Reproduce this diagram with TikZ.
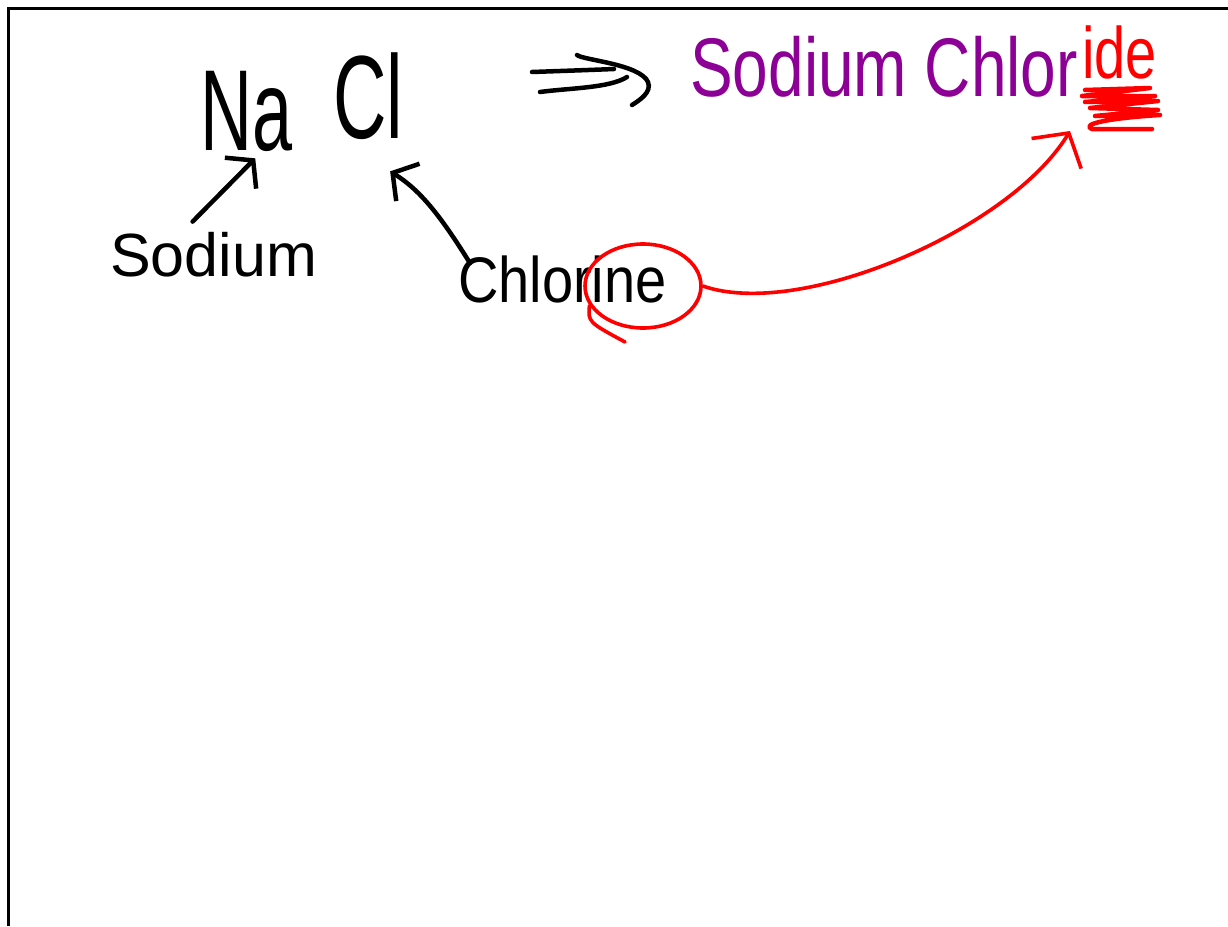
\documentclass[tikz,border=0pt]{standalone}
\usepackage{fontspec}
\setmainfont{Liberation Sans}
\usetikzlibrary{arrows.meta,calc,shapes.geometric}
\definecolor{inkpurple}{RGB}{140,0,150}
\definecolor{inkred}{RGB}{255,0,0}
\tikzset{
  ink/.style={line width=4.5pt,line cap=round,line join=round},
  blackarrow/.style={ink,black,-{Straight Barb[length=18pt,width=44pt,line width=4.5pt]}},
  redarrow/.style={line width=3.6pt,line cap=round,inkred,-{Straight Barb[length=24pt,width=58pt,line width=3.6pt]}},
  txt/.style={inner sep=0pt,anchor=base west},
}
\begin{document}
\begin{tikzpicture}[x=1pt,y=-1pt]
\useasboundingbox (0,0) rectangle (1228,926);
\fill[white] (0,0) rectangle (1228,926);
% frame
\draw[line width=3pt] (8,926) -- (8,8) -- (1228,8);
% formula
\node[txt] (Na) at (200,150) {\fontsize{72}{72}\selectfont\scalebox{1}[1.6]{Na}};
\node[txt] (Cl) at (333,138) {\fontsize{74}{74}\selectfont\scalebox{1}[1.6]{Cl}};
% labels
\node[txt] (sodium) at (110,276) {\fontsize{61}{61}\selectfont Sodium};
\node[txt] (chlorine) at (458,302) {\fontsize{56}{56}\selectfont\scalebox{1}[1.15]{Chlorine}};
\node[txt] (name) at (690,96) {\fontsize{64}{64}\selectfont\scalebox{1}[1.3]{\textcolor{inkpurple}{Sodium Chlor}}};
\node[txt] (dered) at ($(name.base east)+(4,-18)$) {\fontsize{56}{56}\selectfont\scalebox{1}[1.3]{\textcolor{inkred}{ide}}};
% implies arrow
\draw[ink] (532,72) .. controls (560,71) and (590,70) .. (614,69);
\draw[ink] (540,92) .. controls (570,88) and (610,88) .. (627,77);
\draw[ink] (577,55) .. controls (582,60) and (640,64) .. (648,82) .. controls (652,92) and (640,100) .. (632,105);
% black arrows
\draw[blackarrow] ($(sodium.north)+(-21,-10)$) -- ($(Na.south)+(9,7)$);
\draw[blackarrow] ($(chlorine.north west)+(12,8)$) .. controls (440,215) and (420,190) .. ($(Cl.south)+(22,32)$);
% red circle around "ine"
\node[draw=inkred,line width=3.6pt,ellipse,minimum width=116pt,minimum height=84pt,inner sep=0pt] (ine) at (643,286) {};
\draw[line width=3.6pt,inkred,line cap=round] (ine.200) .. controls (588,322) .. (625,342);
% scribble under "ide"
\coordinate (de) at (1070,131);
\draw[line width=4.5pt,inkred,line cap=round,line join=round]
  (1085,90) -- (1150,88) -- (1082,96) -- (1155,96) -- (1085,102) -- (1158,101)
  -- (1090,108) -- (1158,110) -- (1095,116) -- (1160,115)
  .. controls (1110,118) and (1080,124) .. (1092,129) -- (1152,129);
% red arrow
\draw[redarrow] (ine.east) .. controls (800,320) and (1010,230) .. (de);
\end{tikzpicture}
\end{document}
